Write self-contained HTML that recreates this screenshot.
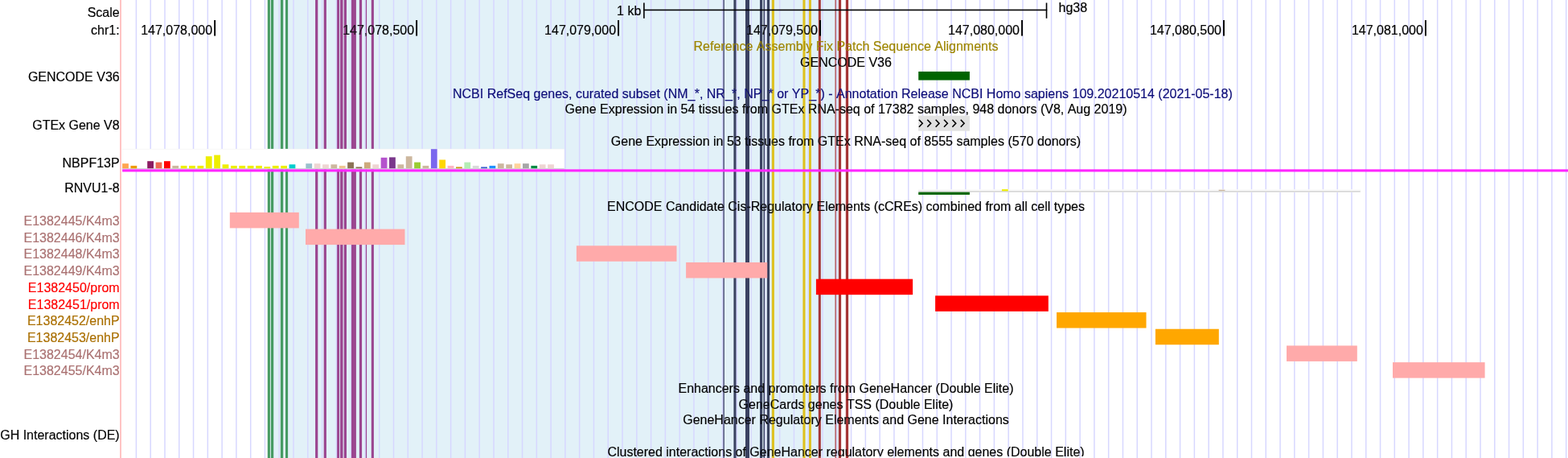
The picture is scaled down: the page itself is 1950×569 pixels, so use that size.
<!DOCTYPE html>
<html lang="en">
<head>
<meta charset="utf-8">
<title>UCSC Genome Browser on Human (GRCh38/hg38)</title>
<style>
html, body { margin: 0; padding: 0; background: #fff; }
body { width: 1950px; height: 569px; overflow: hidden; }
svg { display: block; }
text { font-family: "Liberation Sans", sans-serif; font-size: 16px; stroke-width: 0.18px; font-kerning: none; }
</style>
</head>
<body>
<svg width="1950" height="569" viewBox="0 0 1950 569">
<rect x="0" y="0" width="1950" height="569" fill="#fff"/>
<rect x="332.80" y="0.00" width="711.20" height="569.00" fill="#e2f1f8"/>
<rect x="332.80" y="0.00" width="3.10" height="569.00" fill="#479b63"/>
<rect x="336.90" y="0.00" width="3.30" height="569.00" fill="#479b63"/>
<rect x="348.90" y="0.00" width="3.30" height="569.00" fill="#479b63"/>
<rect x="355.00" y="0.00" width="3.10" height="569.00" fill="#479b63"/>
<rect x="392.10" y="0.00" width="3.20" height="569.00" fill="#9b4690"/>
<rect x="402.70" y="0.00" width="3.20" height="569.00" fill="#9b4690"/>
<rect x="419.00" y="0.00" width="3.10" height="569.00" fill="#9b4690"/>
<rect x="423.10" y="0.00" width="3.40" height="569.00" fill="#9b4690"/>
<rect x="427.70" y="0.00" width="3.30" height="569.00" fill="#9b4690"/>
<rect x="437.00" y="0.00" width="5.90" height="569.00" fill="#9b4690"/>
<rect x="446.90" y="0.00" width="3.20" height="569.00" fill="#9b4690"/>
<rect x="454.60" y="0.00" width="1.50" height="569.00" fill="#9b4690"/>
<rect x="461.80" y="0.00" width="3.10" height="569.00" fill="#9b4690"/>
<rect x="899.10" y="0.00" width="1.90" height="569.00" fill="#596182"/>
<rect x="912.40" y="0.00" width="3.40" height="569.00" fill="#3a4261"/>
<rect x="927.00" y="0.00" width="5.00" height="569.00" fill="#3a4261"/>
<rect x="945.00" y="0.00" width="3.20" height="569.00" fill="#3a4261"/>
<rect x="949.50" y="0.00" width="1.60" height="569.00" fill="#3a4261"/>
<rect x="953.90" y="0.00" width="3.20" height="569.00" fill="#3a4261"/>
<rect x="959.80" y="0.00" width="3.10" height="569.00" fill="#dec11f"/>
<rect x="998.40" y="0.00" width="3.10" height="569.00" fill="#dec11f"/>
<rect x="1005.90" y="0.00" width="3.00" height="569.00" fill="#dec11f"/>
<rect x="1017.80" y="0.00" width="3.00" height="569.00" fill="#a53636"/>
<rect x="1038.40" y="0.00" width="1.50" height="569.00" fill="#b55c61"/>
<rect x="1042.90" y="0.00" width="3.20" height="569.00" fill="#a53636"/>
<rect x="1051.80" y="0.00" width="3.30" height="569.00" fill="#a53636"/>
<rect x="168.67" y="0.00" width="1.48" height="569.00" fill="#d7d7ff"/>
<rect x="186.46" y="0.00" width="1.48" height="569.00" fill="#d7d7ff"/>
<rect x="204.24" y="0.00" width="1.48" height="569.00" fill="#d7d7ff"/>
<rect x="222.02" y="0.00" width="1.48" height="569.00" fill="#d7d7ff"/>
<rect x="239.81" y="0.00" width="1.48" height="569.00" fill="#d7d7ff"/>
<rect x="257.59" y="0.00" width="1.48" height="569.00" fill="#d7d7ff"/>
<rect x="275.37" y="0.00" width="1.48" height="569.00" fill="#d7d7ff"/>
<rect x="293.15" y="0.00" width="1.48" height="569.00" fill="#d7d7ff"/>
<rect x="310.94" y="0.00" width="1.48" height="569.00" fill="#d7d7ff"/>
<rect x="328.72" y="0.00" width="1.48" height="569.00" fill="#d7d7ff"/>
<rect x="346.50" y="0.00" width="1.48" height="569.00" fill="#d7d7ff"/>
<rect x="364.29" y="0.00" width="1.48" height="569.00" fill="#d7d7ff"/>
<rect x="382.07" y="0.00" width="1.48" height="569.00" fill="#d7d7ff"/>
<rect x="399.85" y="0.00" width="1.48" height="569.00" fill="#d7d7ff"/>
<rect x="417.63" y="0.00" width="1.48" height="569.00" fill="#d7d7ff"/>
<rect x="435.42" y="0.00" width="1.48" height="569.00" fill="#d7d7ff"/>
<rect x="453.20" y="0.00" width="1.48" height="569.00" fill="#d7d7ff"/>
<rect x="470.98" y="0.00" width="1.48" height="569.00" fill="#d7d7ff"/>
<rect x="488.77" y="0.00" width="1.48" height="569.00" fill="#d7d7ff"/>
<rect x="506.55" y="0.00" width="1.48" height="569.00" fill="#d7d7ff"/>
<rect x="524.33" y="0.00" width="1.48" height="569.00" fill="#d7d7ff"/>
<rect x="542.12" y="0.00" width="1.48" height="569.00" fill="#d7d7ff"/>
<rect x="559.90" y="0.00" width="1.48" height="569.00" fill="#d7d7ff"/>
<rect x="577.68" y="0.00" width="1.48" height="569.00" fill="#d7d7ff"/>
<rect x="595.47" y="0.00" width="1.48" height="569.00" fill="#d7d7ff"/>
<rect x="613.25" y="0.00" width="1.48" height="569.00" fill="#d7d7ff"/>
<rect x="631.03" y="0.00" width="1.48" height="569.00" fill="#d7d7ff"/>
<rect x="648.81" y="0.00" width="1.48" height="569.00" fill="#d7d7ff"/>
<rect x="666.60" y="0.00" width="1.48" height="569.00" fill="#d7d7ff"/>
<rect x="684.38" y="0.00" width="1.48" height="569.00" fill="#d7d7ff"/>
<rect x="702.16" y="0.00" width="1.48" height="569.00" fill="#d7d7ff"/>
<rect x="719.95" y="0.00" width="1.48" height="569.00" fill="#d7d7ff"/>
<rect x="737.73" y="0.00" width="1.48" height="569.00" fill="#d7d7ff"/>
<rect x="755.51" y="0.00" width="1.48" height="569.00" fill="#d7d7ff"/>
<rect x="773.30" y="0.00" width="1.48" height="569.00" fill="#d7d7ff"/>
<rect x="791.08" y="0.00" width="1.48" height="569.00" fill="#d7d7ff"/>
<rect x="808.86" y="0.00" width="1.48" height="569.00" fill="#d7d7ff"/>
<rect x="826.64" y="0.00" width="1.48" height="569.00" fill="#d7d7ff"/>
<rect x="844.43" y="0.00" width="1.48" height="569.00" fill="#d7d7ff"/>
<rect x="862.21" y="0.00" width="1.48" height="569.00" fill="#d7d7ff"/>
<rect x="879.99" y="0.00" width="1.48" height="569.00" fill="#d7d7ff"/>
<rect x="897.78" y="0.00" width="1.48" height="569.00" fill="#d7d7ff"/>
<rect x="915.56" y="0.00" width="1.48" height="569.00" fill="#d7d7ff"/>
<rect x="933.34" y="0.00" width="1.48" height="569.00" fill="#d7d7ff"/>
<rect x="951.12" y="0.00" width="1.48" height="569.00" fill="#d7d7ff"/>
<rect x="968.91" y="0.00" width="1.48" height="569.00" fill="#d7d7ff"/>
<rect x="986.69" y="0.00" width="1.48" height="569.00" fill="#d7d7ff"/>
<rect x="1004.47" y="0.00" width="1.48" height="569.00" fill="#d7d7ff"/>
<rect x="1022.26" y="0.00" width="1.48" height="569.00" fill="#d7d7ff"/>
<rect x="1040.04" y="0.00" width="1.48" height="569.00" fill="#d7d7ff"/>
<rect x="1057.82" y="0.00" width="1.48" height="569.00" fill="#d7d7ff"/>
<rect x="1075.61" y="0.00" width="1.48" height="569.00" fill="#d7d7ff"/>
<rect x="1093.39" y="0.00" width="1.48" height="569.00" fill="#d7d7ff"/>
<rect x="1111.17" y="0.00" width="1.48" height="569.00" fill="#d7d7ff"/>
<rect x="1128.96" y="0.00" width="1.48" height="569.00" fill="#d7d7ff"/>
<rect x="1146.74" y="0.00" width="1.48" height="569.00" fill="#d7d7ff"/>
<rect x="1164.52" y="0.00" width="1.48" height="569.00" fill="#d7d7ff"/>
<rect x="1182.30" y="0.00" width="1.48" height="569.00" fill="#d7d7ff"/>
<rect x="1200.09" y="0.00" width="1.48" height="569.00" fill="#d7d7ff"/>
<rect x="1217.87" y="0.00" width="1.48" height="569.00" fill="#d7d7ff"/>
<rect x="1235.65" y="0.00" width="1.48" height="569.00" fill="#d7d7ff"/>
<rect x="1253.44" y="0.00" width="1.48" height="569.00" fill="#d7d7ff"/>
<rect x="1271.22" y="0.00" width="1.48" height="569.00" fill="#d7d7ff"/>
<rect x="1289.00" y="0.00" width="1.48" height="569.00" fill="#d7d7ff"/>
<rect x="1306.79" y="0.00" width="1.48" height="569.00" fill="#d7d7ff"/>
<rect x="1324.57" y="0.00" width="1.48" height="569.00" fill="#d7d7ff"/>
<rect x="1342.35" y="0.00" width="1.48" height="569.00" fill="#d7d7ff"/>
<rect x="1360.13" y="0.00" width="1.48" height="569.00" fill="#d7d7ff"/>
<rect x="1377.92" y="0.00" width="1.48" height="569.00" fill="#d7d7ff"/>
<rect x="1395.70" y="0.00" width="1.48" height="569.00" fill="#d7d7ff"/>
<rect x="1413.48" y="0.00" width="1.48" height="569.00" fill="#d7d7ff"/>
<rect x="1431.27" y="0.00" width="1.48" height="569.00" fill="#d7d7ff"/>
<rect x="1449.05" y="0.00" width="1.48" height="569.00" fill="#d7d7ff"/>
<rect x="1466.83" y="0.00" width="1.48" height="569.00" fill="#d7d7ff"/>
<rect x="1484.62" y="0.00" width="1.48" height="569.00" fill="#d7d7ff"/>
<rect x="1502.40" y="0.00" width="1.48" height="569.00" fill="#d7d7ff"/>
<rect x="1520.18" y="0.00" width="1.48" height="569.00" fill="#d7d7ff"/>
<rect x="1537.96" y="0.00" width="1.48" height="569.00" fill="#d7d7ff"/>
<rect x="1555.75" y="0.00" width="1.48" height="569.00" fill="#d7d7ff"/>
<rect x="1573.53" y="0.00" width="1.48" height="569.00" fill="#d7d7ff"/>
<rect x="1591.31" y="0.00" width="1.48" height="569.00" fill="#d7d7ff"/>
<rect x="1609.10" y="0.00" width="1.48" height="569.00" fill="#d7d7ff"/>
<rect x="1626.88" y="0.00" width="1.48" height="569.00" fill="#d7d7ff"/>
<rect x="1644.66" y="0.00" width="1.48" height="569.00" fill="#d7d7ff"/>
<rect x="1662.44" y="0.00" width="1.48" height="569.00" fill="#d7d7ff"/>
<rect x="1680.23" y="0.00" width="1.48" height="569.00" fill="#d7d7ff"/>
<rect x="1698.01" y="0.00" width="1.48" height="569.00" fill="#d7d7ff"/>
<rect x="1715.79" y="0.00" width="1.48" height="569.00" fill="#d7d7ff"/>
<rect x="1733.58" y="0.00" width="1.48" height="569.00" fill="#d7d7ff"/>
<rect x="1751.36" y="0.00" width="1.48" height="569.00" fill="#d7d7ff"/>
<rect x="1769.14" y="0.00" width="1.48" height="569.00" fill="#d7d7ff"/>
<rect x="1786.93" y="0.00" width="1.48" height="569.00" fill="#d7d7ff"/>
<rect x="1804.71" y="0.00" width="1.48" height="569.00" fill="#d7d7ff"/>
<rect x="1822.49" y="0.00" width="1.48" height="569.00" fill="#d7d7ff"/>
<rect x="1840.28" y="0.00" width="1.48" height="569.00" fill="#d7d7ff"/>
<rect x="1858.06" y="0.00" width="1.48" height="569.00" fill="#d7d7ff"/>
<rect x="1875.84" y="0.00" width="1.48" height="569.00" fill="#d7d7ff"/>
<rect x="1893.62" y="0.00" width="1.48" height="569.00" fill="#d7d7ff"/>
<rect x="1911.41" y="0.00" width="1.48" height="569.00" fill="#d7d7ff"/>
<rect x="1929.19" y="0.00" width="1.48" height="569.00" fill="#d7d7ff"/>
<rect x="1946.97" y="0.00" width="1.48" height="569.00" fill="#d7d7ff"/>
<rect x="149.26" y="0.00" width="1.48" height="569.00" fill="#ffb0b0"/>
<rect x="800.10" y="11.65" width="502.10" height="1.60" fill="#000"/>
<rect x="800.10" y="3.50" width="1.60" height="19.30" fill="#000"/>
<rect x="1300.70" y="3.50" width="1.60" height="19.30" fill="#000"/>
<rect x="266.20" y="25.00" width="1.90" height="19.60" fill="#000"/>
<rect x="517.16" y="25.00" width="1.90" height="19.60" fill="#000"/>
<rect x="768.12" y="25.00" width="1.90" height="19.60" fill="#000"/>
<rect x="1019.08" y="25.00" width="1.90" height="19.60" fill="#000"/>
<rect x="1270.04" y="25.00" width="1.90" height="19.60" fill="#000"/>
<rect x="1521.00" y="25.00" width="1.90" height="19.60" fill="#000"/>
<rect x="1771.96" y="25.00" width="1.90" height="19.60" fill="#000"/>
<rect x="1142.20" y="88.90" width="63.70" height="10.70" fill="#006400"/>
<rect x="1142.10" y="143.80" width="63.80" height="18.90" fill="#e1e1e1"/>
<path d="M1142.90 148.7 L1147.20 153.2 L1142.90 157.7" fill="none" stroke="#000" stroke-width="1.6"/>
<path d="M1153.27 148.7 L1157.57 153.2 L1153.27 157.7" fill="none" stroke="#000" stroke-width="1.6"/>
<path d="M1163.64 148.7 L1167.94 153.2 L1163.64 157.7" fill="none" stroke="#000" stroke-width="1.6"/>
<path d="M1174.01 148.7 L1178.31 153.2 L1174.01 157.7" fill="none" stroke="#000" stroke-width="1.6"/>
<path d="M1184.38 148.7 L1188.68 153.2 L1184.38 157.7" fill="none" stroke="#000" stroke-width="1.6"/>
<path d="M1194.75 148.7 L1199.05 153.2 L1194.75 157.7" fill="none" stroke="#000" stroke-width="1.6"/>
<rect x="151.90" y="184.90" width="549.90" height="25.50" fill="#f3f3f3"/>
<rect x="152.40" y="185.50" width="549.20" height="23.70" fill="#ffffff"/>
<rect x="151.90" y="209.20" width="549.90" height="1.30" fill="#c9cdd2"/>
<rect x="152.10" y="203.20" width="7.80" height="6.00" fill="#ffa54f"/>
<rect x="162.47" y="205.90" width="7.80" height="3.30" fill="#ee9a00"/>
<rect x="183.22" y="200.20" width="7.80" height="9.00" fill="#8b1c62"/>
<rect x="193.59" y="201.60" width="7.80" height="7.60" fill="#ee6a50"/>
<rect x="203.96" y="200.20" width="7.80" height="9.00" fill="#ff0000"/>
<rect x="214.34" y="205.90" width="7.80" height="3.30" fill="#cdb79e"/>
<rect x="224.71" y="205.90" width="7.80" height="3.30" fill="#eeee00"/>
<rect x="235.08" y="205.90" width="7.80" height="3.30" fill="#eeee00"/>
<rect x="245.46" y="205.90" width="7.80" height="3.30" fill="#eeee00"/>
<rect x="255.83" y="194.20" width="7.80" height="15.00" fill="#eeee00"/>
<rect x="266.20" y="192.60" width="7.80" height="16.60" fill="#eeee00"/>
<rect x="276.58" y="204.30" width="7.80" height="4.90" fill="#eeee00"/>
<rect x="286.95" y="205.90" width="7.80" height="3.30" fill="#eeee00"/>
<rect x="297.32" y="205.90" width="7.80" height="3.30" fill="#eeee00"/>
<rect x="307.69" y="205.90" width="7.80" height="3.30" fill="#eeee00"/>
<rect x="318.07" y="205.90" width="7.80" height="3.30" fill="#eeee00"/>
<rect x="328.44" y="207.10" width="7.80" height="2.10" fill="#eeee00"/>
<rect x="338.81" y="205.90" width="7.80" height="3.30" fill="#eeee00"/>
<rect x="349.19" y="205.90" width="7.80" height="3.30" fill="#eeee00"/>
<rect x="359.56" y="204.30" width="7.80" height="4.90" fill="#00cdcd"/>
<rect x="380.31" y="203.20" width="7.80" height="6.00" fill="#9ac0cd"/>
<rect x="390.68" y="203.20" width="7.80" height="6.00" fill="#eed5d2"/>
<rect x="401.05" y="204.30" width="7.80" height="4.90" fill="#eed5d2"/>
<rect x="411.42" y="204.30" width="7.80" height="4.90" fill="#cdb79e"/>
<rect x="421.80" y="205.90" width="7.80" height="3.30" fill="#eec591"/>
<rect x="432.17" y="201.60" width="7.80" height="7.60" fill="#8b7355"/>
<rect x="442.54" y="207.40" width="7.80" height="1.80" fill="#8b7355"/>
<rect x="452.92" y="201.60" width="7.80" height="7.60" fill="#cdaa7d"/>
<rect x="463.29" y="204.30" width="7.80" height="4.90" fill="#eed5d2"/>
<rect x="473.66" y="195.80" width="7.80" height="13.40" fill="#b452cd"/>
<rect x="484.04" y="195.40" width="7.80" height="13.80" fill="#7a378b"/>
<rect x="494.41" y="204.30" width="7.80" height="4.90" fill="#cdb79e"/>
<rect x="504.78" y="194.20" width="7.80" height="15.00" fill="#cdb79e"/>
<rect x="515.15" y="201.60" width="7.80" height="7.60" fill="#9acd32"/>
<rect x="525.53" y="205.90" width="7.80" height="3.30" fill="#cdb79e"/>
<rect x="535.90" y="185.20" width="7.80" height="24.00" fill="#7a67ee"/>
<rect x="546.27" y="198.50" width="7.80" height="10.70" fill="#ffd700"/>
<rect x="556.65" y="205.90" width="7.80" height="3.30" fill="#ffb6c1"/>
<rect x="567.02" y="207.40" width="7.80" height="1.80" fill="#cd9b1d"/>
<rect x="577.39" y="201.60" width="7.80" height="7.60" fill="#b4eeb4"/>
<rect x="587.77" y="205.90" width="7.80" height="3.30" fill="#d9d9d9"/>
<rect x="598.14" y="207.40" width="7.80" height="1.80" fill="#3a5fcd"/>
<rect x="608.51" y="205.90" width="7.80" height="3.30" fill="#1e90ff"/>
<rect x="618.88" y="203.20" width="7.80" height="6.00" fill="#cdb79e"/>
<rect x="629.26" y="204.30" width="7.80" height="4.90" fill="#cdb79e"/>
<rect x="639.63" y="203.20" width="7.80" height="6.00" fill="#ffd39b"/>
<rect x="650.00" y="203.20" width="7.80" height="6.00" fill="#a6a6a6"/>
<rect x="660.38" y="205.90" width="7.80" height="3.30" fill="#008b45"/>
<rect x="670.75" y="204.30" width="7.80" height="4.90" fill="#eed5d2"/>
<rect x="681.12" y="204.30" width="7.80" height="4.90" fill="#eed5d2"/>
<rect x="152.10" y="210.35" width="1797.90" height="3.10" fill="#ff26ff"/>
<rect x="1142.20" y="235.30" width="549.60" height="3.50" fill="#f6f6f6"/>
<rect x="1142.60" y="235.80" width="548.90" height="3.00" fill="#ffffff"/>
<rect x="1142.20" y="236.90" width="549.60" height="1.90" fill="#d9d9d9"/>
<rect x="1245.93" y="235.20" width="7.80" height="2.10" fill="#eeee00"/>
<rect x="1515.63" y="235.80" width="7.80" height="1.20" fill="#cdb79e"/>
<rect x="1142.20" y="238.75" width="63.70" height="3.15" fill="#006400"/>
<rect x="285.80" y="263.90" width="86.00" height="19.50" fill="#ffaaaa"/>
<rect x="380.00" y="284.59" width="123.50" height="19.50" fill="#ffaaaa"/>
<rect x="716.90" y="305.28" width="124.60" height="19.50" fill="#ffaaaa"/>
<rect x="853.10" y="325.97" width="101.10" height="19.50" fill="#ffaaaa"/>
<rect x="1014.90" y="346.66" width="120.20" height="19.50" fill="#ff0000"/>
<rect x="1163.10" y="367.35" width="140.70" height="19.50" fill="#ff0000"/>
<rect x="1314.00" y="388.04" width="111.50" height="19.50" fill="#ffa700"/>
<rect x="1436.90" y="408.73" width="78.90" height="19.50" fill="#ffa700"/>
<rect x="1600.00" y="429.42" width="87.80" height="19.50" fill="#ffaaaa"/>
<rect x="1732.00" y="450.11" width="114.60" height="19.50" fill="#ffaaaa"/>
<mask id="tm" maskUnits="userSpaceOnUse" x="0" y="0" width="1950" height="569"><rect x="0" y="0" width="1950" height="569" fill="#fff"/>
<rect x="332.80" y="0.00" width="3.10" height="569.00" fill="#c4c4c4"/>
<rect x="336.90" y="0.00" width="3.30" height="569.00" fill="#c4c4c4"/>
<rect x="348.90" y="0.00" width="3.30" height="569.00" fill="#c4c4c4"/>
<rect x="355.00" y="0.00" width="3.10" height="569.00" fill="#c4c4c4"/>
<rect x="392.10" y="0.00" width="3.20" height="569.00" fill="#c4c4c4"/>
<rect x="402.70" y="0.00" width="3.20" height="569.00" fill="#c4c4c4"/>
<rect x="419.00" y="0.00" width="3.10" height="569.00" fill="#c4c4c4"/>
<rect x="423.10" y="0.00" width="3.40" height="569.00" fill="#c4c4c4"/>
<rect x="427.70" y="0.00" width="3.30" height="569.00" fill="#c4c4c4"/>
<rect x="437.00" y="0.00" width="5.90" height="569.00" fill="#c4c4c4"/>
<rect x="446.90" y="0.00" width="3.20" height="569.00" fill="#c4c4c4"/>
<rect x="454.60" y="0.00" width="1.50" height="569.00" fill="#c4c4c4"/>
<rect x="461.80" y="0.00" width="3.10" height="569.00" fill="#c4c4c4"/>
<rect x="899.10" y="0.00" width="1.90" height="569.00" fill="#c4c4c4"/>
<rect x="912.40" y="0.00" width="3.40" height="569.00" fill="#c4c4c4"/>
<rect x="927.00" y="0.00" width="5.00" height="569.00" fill="#c4c4c4"/>
<rect x="945.00" y="0.00" width="3.20" height="569.00" fill="#c4c4c4"/>
<rect x="949.50" y="0.00" width="1.60" height="569.00" fill="#c4c4c4"/>
<rect x="953.90" y="0.00" width="3.20" height="569.00" fill="#c4c4c4"/>
<rect x="959.80" y="0.00" width="3.10" height="569.00" fill="#c4c4c4"/>
<rect x="998.40" y="0.00" width="3.10" height="569.00" fill="#c4c4c4"/>
<rect x="1005.90" y="0.00" width="3.00" height="569.00" fill="#c4c4c4"/>
<rect x="1017.80" y="0.00" width="3.00" height="569.00" fill="#c4c4c4"/>
<rect x="1038.40" y="0.00" width="1.50" height="569.00" fill="#c4c4c4"/>
<rect x="1042.90" y="0.00" width="3.20" height="569.00" fill="#c4c4c4"/>
<rect x="1051.80" y="0.00" width="3.30" height="569.00" fill="#c4c4c4"/>
</mask>
<g mask="url(#tm)">
<text x="148.70" y="21.00" text-anchor="end" fill="#000" stroke="#000">Scale</text>
<text x="148.70" y="43.00" text-anchor="end" fill="#000" stroke="#000">chr1:</text>
<text x="148.70" y="101.00" text-anchor="end" fill="#000" stroke="#000">GENCODE V36</text>
<text x="148.70" y="161.00" text-anchor="end" fill="#000" stroke="#000">GTEx Gene V8</text>
<text x="148.70" y="208.00" text-anchor="end" fill="#000" stroke="#000">NBPF13P</text>
<text x="148.70" y="239.00" text-anchor="end" fill="#000" stroke="#000">RNVU1-8</text>
<text x="148.70" y="280.00" text-anchor="end" fill="#aa7171" stroke="#aa7171">E1382445/K4m3</text>
<text x="148.70" y="301.00" text-anchor="end" fill="#aa7171" stroke="#aa7171">E1382446/K4m3</text>
<text x="148.70" y="321.00" text-anchor="end" fill="#aa7171" stroke="#aa7171">E1382448/K4m3</text>
<text x="148.70" y="342.00" text-anchor="end" fill="#aa7171" stroke="#aa7171">E1382449/K4m3</text>
<text x="148.70" y="363.00" text-anchor="end" fill="#ff0000" stroke="#ff0000">E1382450/prom</text>
<text x="148.70" y="384.00" text-anchor="end" fill="#ff0000" stroke="#ff0000">E1382451/prom</text>
<text x="148.70" y="404.00" text-anchor="end" fill="#aa6f00" stroke="#aa6f00">E1382452/enhP</text>
<text x="148.70" y="425.00" text-anchor="end" fill="#aa6f00" stroke="#aa6f00">E1382453/enhP</text>
<text x="148.70" y="446.00" text-anchor="end" fill="#aa7171" stroke="#aa7171">E1382454/K4m3</text>
<text x="148.70" y="466.00" text-anchor="end" fill="#aa7171" stroke="#aa7171">E1382455/K4m3</text>
<text x="148.70" y="546.00" text-anchor="end" fill="#000" stroke="#000">GH Interactions (DE)</text>
<text x="797.30" y="19.00" text-anchor="end" fill="#000" stroke="#000">1 kb</text>
<text x="1316.50" y="15.00" text-anchor="start" fill="#000" stroke="#000">hg38</text>
<text x="264.15" y="43.00" text-anchor="end" fill="#000" stroke="#000">147,078,000</text>
<text x="515.11" y="43.00" text-anchor="end" fill="#000" stroke="#000">147,078,500</text>
<text x="766.07" y="43.00" text-anchor="end" fill="#000" stroke="#000">147,079,000</text>
<text x="1017.03" y="43.00" text-anchor="end" fill="#000" stroke="#000">147,079,500</text>
<text x="1267.99" y="43.00" text-anchor="end" fill="#000" stroke="#000">147,080,000</text>
<text x="1518.95" y="43.00" text-anchor="end" fill="#000" stroke="#000">147,080,500</text>
<text x="1769.91" y="43.00" text-anchor="end" fill="#000" stroke="#000">147,081,000</text>
<text x="1052.00" y="63.00" text-anchor="middle" fill="#9e8600" stroke="#9e8600">Reference Assembly Fix Patch Sequence Alignments</text>
<text x="1052.00" y="83.00" text-anchor="middle" fill="#000" stroke="#000">GENCODE V36</text>
<text x="563.00" y="122.00" text-anchor="start" fill="#0c0c78" stroke="#0c0c78">NCBI RefSeq genes, curated subset (NM_<tspan dx="-0.8">*</tspan>, NR_<tspan dx="-0.8">*</tspan>, NP_<tspan dx="-0.8">*</tspan> or YP_<tspan dx="-0.8">*</tspan>) - Annotation Release NCBI Homo sapiens 109.20210514 (2021-05-18)</text>
<text x="1052.00" y="141.00" text-anchor="middle" fill="#000" stroke="#000">Gene Expression in 54 tissues from GTEx RNA-seq of 17382 samples, 948 donors (V8, Aug 2019)</text>
<text x="1052.00" y="181.00" text-anchor="middle" fill="#000" stroke="#000">Gene Expression in 53 tissues from GTEx RNA-seq of 8555 samples (570 donors)</text>
<text x="1052.00" y="262.00" text-anchor="middle" fill="#000" stroke="#000">ENCODE Candidate Cis-Regulatory Elements (cCREs) combined from all cell types</text>
<text x="1052.00" y="488.00" text-anchor="middle" fill="#000" stroke="#000">Enhancers and promoters from GeneHancer (Double Elite)</text>
<text x="1052.00" y="508.00" text-anchor="middle" fill="#000" stroke="#000">GeneCards genes TSS (Double Elite)</text>
<text x="1052.00" y="527.00" text-anchor="middle" fill="#000" stroke="#000">GeneHancer Regulatory Elements and Gene Interactions</text>
<clipPath id="cb"><rect x="0" y="540" width="1950" height="27"/></clipPath>
<text x="1052.00" y="567.00" text-anchor="middle" fill="#000" stroke="#000" clip-path="url(#cb)">Clustered interactions of GeneHancer regulatory elements and genes (Double Elite)</text>
</g>
</svg>
</body>
</html>
